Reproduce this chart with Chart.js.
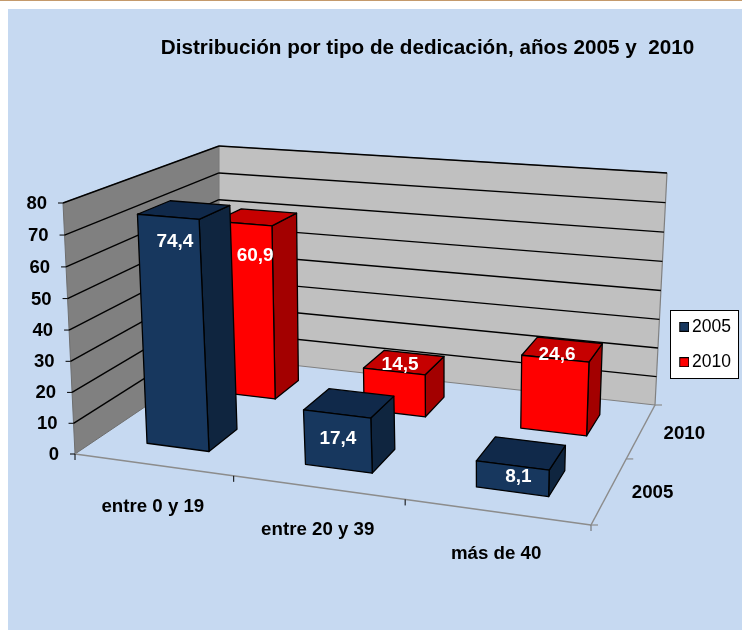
<!DOCTYPE html>
<html><head><meta charset="utf-8">
<style>html,body{margin:0;padding:0;background:#fff}canvas{display:block}</style>
<script src="https://cdn.jsdelivr.net/npm/chart.js@4"></script></head>
<body><canvas id="c" width="742" height="630"></canvas>
<script>
const categories = ["entre 0 y 19", "entre 20 y 39", "más de 40"];
const seriesNames = ["2005", "2010"];
const values2005 = [74.4, 17.4, 8.1];
const values2010 = [60.9, 14.5, 24.6];
const yTicks = [0, 10, 20, 30, 40, 50, 60, 70, 80];
const titleText = "Distribución por tipo de dedicación, años 2005 y  2010";

const FONT = '"Liberation Sans", Arial, sans-serif';
const colors = [
  {front:'#17375e', top:'#10294a', side:'#0f253f'},
  {front:'#ff0000', top:'#c60000', side:'#a30000'}
];
// frame of the 3D box on the page (u: categories, v: depth)
const floorQuad = [[75,454],[591,525],[655,405],[219,357]];
const ceilQuad  = [[63,203],[601,249],[667,173],[219,146]];
const HEIGHT_PERSPECTIVE = 1.025;
const BAR_U_SHIFT = 0.0035;
// data-label nudges from the bar's front-top midpoint, [series][category]
const labelNudge = [[[7,25],[1,25],[6,11]],[[12,32],[6,-7],[2,-4]]];

function homography(q){
  const [[x0,y0],[x1,y1],[x2,y2],[x3,y3]] = q;
  const sx=x0-x1+x2-x3, sy=y0-y1+y2-y3;
  const dx1=x1-x2, dx2=x3-x2, dy1=y1-y2, dy2=y3-y2;
  const det=dx1*dy2-dx2*dy1;
  const g=(sx*dy2-dx2*sy)/det, h=(dx1*sy-sx*dy1)/det;
  const a=x1-x0+g*x1, b=x3-x0+h*x3, d=y1-y0+g*y1, e=y3-y0+h*y3;
  return (u,v)=>{const w=g*u+h*v+1;return [(a*u+b*v+x0)/w,(d*u+e*v+y0)/w];};
}
const floorH = homography(floorQuad), ceilH = homography(ceilQuad);
function P(u,v,t){
  const f=floorH(u,v), c=ceilH(u,v);
  const s=t/(t+(1-t)*HEIGHT_PERSPECTIVE);
  return [f[0]+(c[0]-f[0])*s, f[1]+(c[1]-f[1])*s];
}
function poly(ctx,pts,fill,stroke,lw){
  ctx.beginPath();
  pts.forEach((p,i)=>i?ctx.lineTo(p[0],p[1]):ctx.moveTo(p[0],p[1]));
  ctx.closePath();
  if(fill){ctx.fillStyle=fill;ctx.fill();}
  if(stroke){ctx.strokeStyle=stroke;ctx.lineWidth=lw||1;ctx.lineJoin='round';ctx.stroke();}
}
function seg(ctx,a,b,col,lw){
  ctx.beginPath();ctx.moveTo(a[0],a[1]);ctx.lineTo(b[0],b[1]);
  ctx.strokeStyle=col;ctx.lineWidth=lw;ctx.stroke();
}
function swatch(fill){
  const c=document.createElement('canvas');c.width=13;c.height=10;
  const g=c.getContext('2d');
  g.fillStyle=fill;g.fillRect(3,0,10,10);
  g.strokeStyle='#000';g.lineWidth=1;g.strokeRect(3.5,.5,9,9);
  return c;
}

const scene = {
  id:'scene',
  afterLayout(chart){
    const t=chart.titleBlock; t.left+=25; t.right+=25;
    const l=chart.legend;
    const w=l.right-l.left;
    l.left=664.25; l.right=664.25+w;
    const h=l.bottom-l.top, top=300;
    l.top=top; l.bottom=top+h;
  },
  beforeDraw(chart){
    const ctx=chart.ctx;
    ctx.save();
    ctx.fillStyle='#fff';ctx.fillRect(0,0,742,630);
    ctx.fillStyle='#c6d9f1';ctx.fillRect(8,9,734,621);
    ctx.fillStyle='#c49a6c';ctx.fillRect(0,0,742,1);
    ctx.fillStyle='#fff';ctx.fillRect(670.5,310.5,68,68);
    ctx.strokeStyle='#000';ctx.lineWidth=1;ctx.strokeRect(670.5,310.5,68,68);
    ctx.restore();
  },
  beforeDatasetsDraw(chart){
    const ctx=chart.ctx, ys=chart.scales.y, xs=chart.scales.x;
    const frac=v=>(ys.bottom-ys.getPixelForValue(v))/(ys.bottom-ys.top);
    const nCat=categories.length, nDepth=seriesNames.length;
    ctx.save();
    // walls
    poly(ctx,[P(0,0,0),P(0,1,0),P(0,1,1),P(0,0,1)],'#808080','#6e6e6e',1);
    poly(ctx,[P(0,1,0),P(1,1,0),P(1,1,1),P(0,1,1)],'#c0c0c0','#808080',1.2);
    // gridlines + y ticks + y labels
    ctx.font='bold 18.5px '+FONT;ctx.textBaseline='middle';ctx.textAlign='right';
    ys.ticks.forEach(tk=>{
      const t=frac(tk.value);
      if(t>0){
        seg(ctx,P(0,0,t),P(0,1,t),'#000',1.4);
        seg(ctx,P(0,1,t),P(1,1,t),'#000',1.4);
      }
      const a=P(0,0,t);
      seg(ctx,[a[0]-5,a[1]],[a[0],a[1]],'#000',1);
      ctx.fillStyle='#000';
      ctx.fillText(String(tk.value),a[0]-16,a[1]+1);
    });
    // floor edges + ticks
    seg(ctx,P(0,0,0),P(1,0,0),'#8c8c8c',1.5);
    seg(ctx,P(1,0,0),P(1,1,0),'#8c8c8c',1.5);
    for(let i=0;i<=nCat;i++){const a=P(i/nCat,0,0);seg(ctx,a,[a[0],a[1]+6],i===nCat?'#666':'#000',1);}
    for(let j=0;j<=nDepth;j++){const a=P(1,j/nDepth,0);seg(ctx,a,[a[0]+7,a[1]],'#8c8c8c',1.2);}
    // category + depth labels
    ctx.fillStyle='#000';ctx.textAlign='center';
    ctx.font='bold 18.7px '+FONT;
    categories.forEach((c,i)=>{
      const a=P((xs.getPixelForValue(i)-xs.left)/(xs.right-xs.left),0,0);
      ctx.fillText(c,a[0],a[1]+42);
    });
    seriesNames.forEach((n,j)=>{
      const a=P(1,(j+.5)/nDepth,0);
      ctx.fillText(n,a[0]+43,a[1]+3);
    });
    // bars: back row first, right to left
    for(let ds=nDepth-1;ds>=0;ds--){
      const meta=chart.getDatasetMeta(ds), col=colors[ds];
      const v0=(ds+.3)/nDepth, v1=(ds+.7)/nDepth;
      for(let i=meta.data.length-1;i>=0;i--){
        const el=meta.data[i];
        const u0=(el.x-el.width/2-xs.left)/(xs.right-xs.left)+BAR_U_SHIFT;
        const u1=(el.x+el.width/2-xs.left)/(xs.right-xs.left)+BAR_U_SHIFT;
        const t=(ys.bottom-el.y)/(ys.bottom-ys.top);
        poly(ctx,[P(u1,v0,0),P(u1,v1,0),P(u1,v1,t),P(u1,v0,t)],col.side,'#000',1.3);
        poly(ctx,[P(u0,v0,t),P(u1,v0,t),P(u1,v1,t),P(u0,v1,t)],col.top,'#000',1.3);
        poly(ctx,[P(u0,v0,0),P(u1,v0,0),P(u1,v0,t),P(u0,v0,t)],col.front,'#000',1.3);
      }
    }
    // data labels on top of every bar
    ctx.fillStyle='#fff';ctx.font='bold 19px '+FONT;
    for(let ds=nDepth-1;ds>=0;ds--){
      const meta=chart.getDatasetMeta(ds);
      const v0=(ds+.3)/nDepth;
      meta.data.forEach((el,i)=>{
        const u=(el.x-xs.left)/(xs.right-xs.left)+BAR_U_SHIFT;
        const t=(ys.bottom-el.y)/(ys.bottom-ys.top);
        const a=P(u,v0,t), n=labelNudge[ds][i];
        ctx.fillText(String(chart.data.datasets[ds].data[i]).replace('.',','),a[0]+n[0],a[1]+n[1]);
      });
    }
    ctx.restore();
    return false;
  }
};

new Chart(document.getElementById('c'),{
  type:'bar',
  data:{labels:categories,datasets:[
    {label:seriesNames[0],data:values2005,backgroundColor:colors[0].front,borderColor:'#000',borderWidth:1},
    {label:seriesNames[1],data:values2010,backgroundColor:colors[1].front,borderColor:'#000',borderWidth:1}
  ]},
  options:{
    responsive:false,animation:false,
    layout:{padding:{left:63,right:0,top:0,bottom:176}},
    datasets:{bar:{grouped:false,categoryPercentage:.4,barPercentage:1}},
    scales:{
      x:{ticks:{display:false},grid:{display:false},border:{display:false}},
      y:{min:0,max:80,afterBuildTicks(s){s.ticks=yTicks.map(v=>({value:v}));},
         ticks:{display:false},grid:{display:false},border:{display:false}}
    },
    plugins:{
      title:{display:true,text:titleText,color:'#000',align:'center',
        font:{family:FONT,size:20.7,weight:'bold',lineHeight:1.2},padding:{top:36,bottom:142.16}},
      legend:{position:'right',align:'start',
        labels:{usePointStyle:true,pointStyleWidth:1,boxHeight:10,padding:18,color:'#000',
          font:{family:FONT,size:17.5},
          generateLabels(chart){
            return Chart.defaults.plugins.legend.labels.generateLabels(chart)
              .map((it,i)=>Object.assign(it,{pointStyle:swatch(colors[i].front)}));
          }}},
      tooltip:{enabled:false}
    }
  },
  plugins:[scene]
});
</script></body></html>
